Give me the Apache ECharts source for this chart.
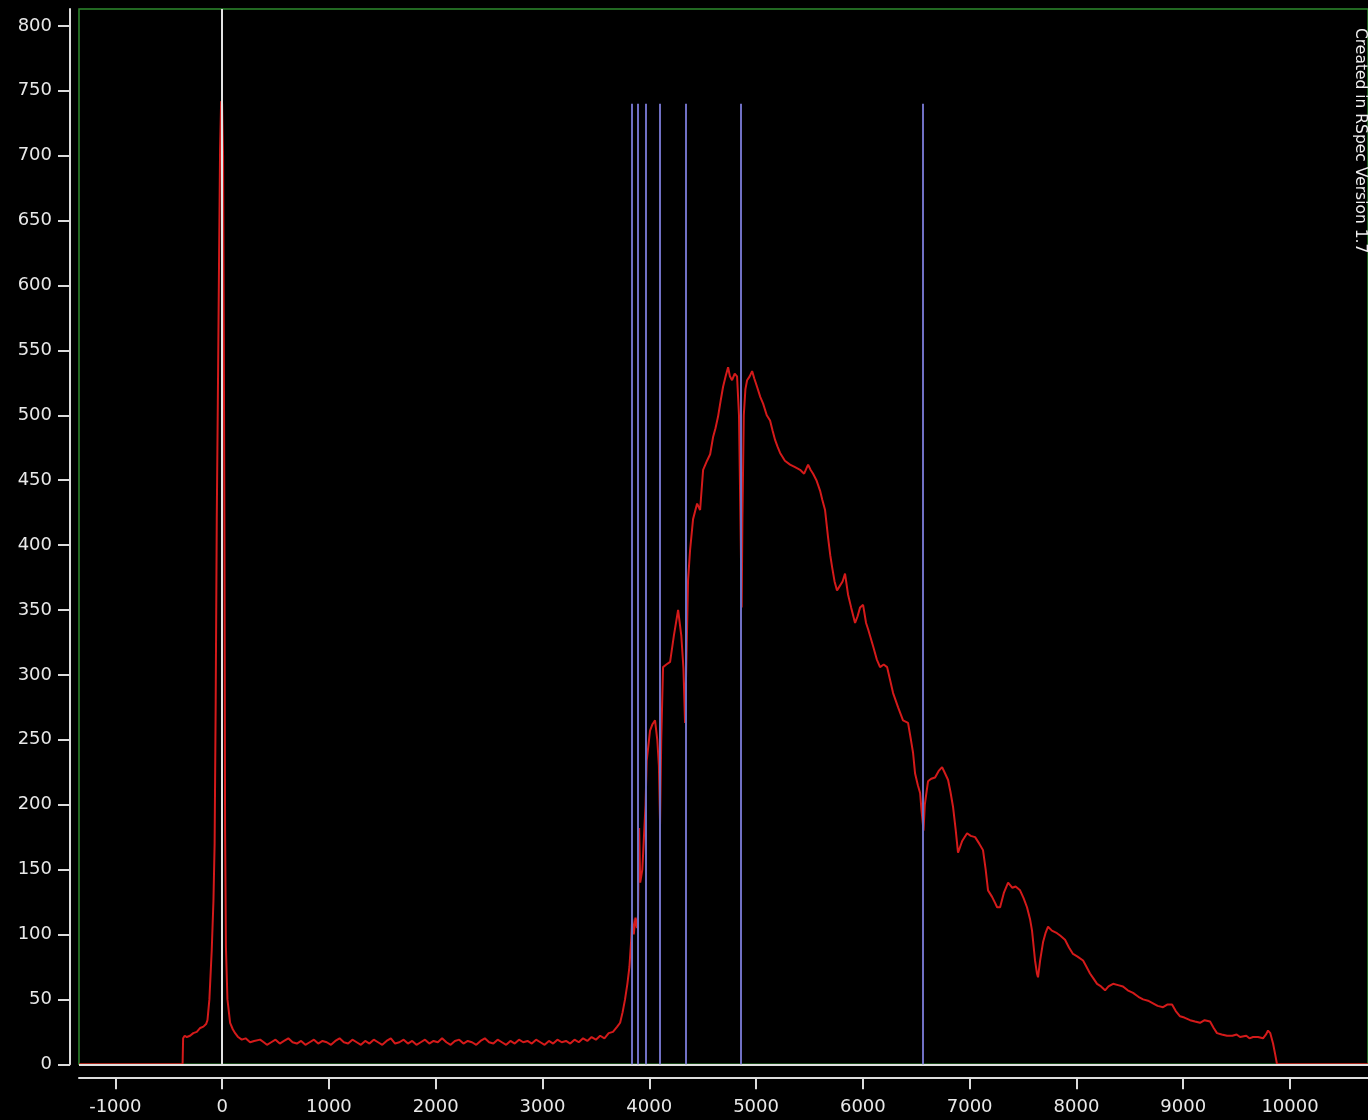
<!DOCTYPE html>
<html>
<head>
<meta charset="utf-8">
<script src="https://cdn.jsdelivr.net/npm/echarts@6/dist/echarts.min.js"></script>
<style>
html,body{margin:0;padding:0;background:#000;}
#chart{width:1368px;height:1120px;}
</style>
</head>
<body>
<div id="chart"></div>
<script>
// Spectrum: wavelength (Angstrom) and intensity
const wavelengths = [
-1340,-370,-365,-350,-330,-300,-270,-237,-205,-175,-150,-137,-119,-97,-81,-70,-60,-50,-40,-28,-19,-9,0,9,16,22,28,36,50,75,100,122,150,184,220,262,300,356,390,420,
460,500,540,580,620,660,700,740,780,820,860,900,940,980,1020,1060,1100,1140,1180,1220,1260,1300,1340,1380,1420,1460,1500,1540,1580,1620,1660,1700,1740,1780,1820,1860,1900,1940,1980,2020,2060,2100,2140,2180,2220,2260,2300,2340,2380,2420,2460,2500,2540,2580,2620,2660,2700,2740,2780,2820,2860,2900,2940,2980,3020,3060,3100,3140,3180,3220,3260,3300,3340,3380,3420,3460,3500,3540,3580,3620,3660,3700,3727,3750,3773,3795,3814,3830,3840,3855,3870,3885,3895,3905,3915,3935,3950,3965,3976,4007,4030,4054,4075,4090,4101,4112,4129,4160,4195,4230,4270,4300,4320,4335,4350,4363,4382,4410,4448,4476,4504,4541,4570,4597,4620,4644,4670,4691,4715,4738,4755,4775,4800,4822,4840,4852,4865,4872,4885,4900,4916,4940,4963,4985,5009,5040,5066,5100,5131,5155,5178,5200,5225,5270,5318,5365,5412,5450,5487,5510,5534,5565,5599,5620,5646,5674,5695,5712,5735,5758,5780,5810,5833,5861,5890,5927,5950,5974,6002,6030,6050,6096,6130,6161,6195,6227,6255,6283,6330,6376,6423,6450,6470,6489,6515,6536,6550,6568,6580,6610,6640,6676,6710,6742,6770,6798,6820,6845,6870,6891,6930,6976,7010,7051,7090,7125,7150,7172,7210,7240,7257,7285,7320,7360,7400,7430,7472,7505,7537,7565,7584,7600,7612,7630,7640,7660,7687,7710,7734,7770,7818,7850,7893,7930,7968,8010,8062,8095,8127,8160,8193,8230,8268,8300,8343,8390,8436,8480,8530,8580,8624,8670,8717,8760,8811,8850,8895,8930,8970,9010,9064,9110,9157,9200,9251,9285,9316,9360,9410,9460,9500,9532,9590,9620,9654,9700,9747,9775,9794,9815,9841,9860,9878,10730
];
const intensity = [
0,0,20,22,21,22,24,25,28,29,31,34,50,88,126,170,280,420,510,625,705,742,740,700,560,400,180,90,50,32,27,24,21,19,20,17,18,19,17,15,
17,19,16,18,20,17,16,18,15,17,19,16,18,17,15,18,20,17,16,19,17,15,18,16,19,17,15,18,20,16,17,19,16,18,15,17,19,16,18,17,20,17,15,18,19,16,18,17,15,18,20,17,16,19,17,15,18,16,19,17,18,16,19,17,15,18,16,19,17,18,16,19,17,20,18,21,19,22,20,24,25,29,32,40,50,62,75,95,112,100,113,105,115,182,140,150,175,200,234,257,262,265,250,230,185,250,306,308,310,330,350,330,305,263,320,373,396,420,432,427,458,465,470,483,490,499,512,522,530,537,530,527,532,530,500,430,352,420,500,520,527,530,534,528,522,514,509,500,496,488,481,476,471,465,462,460,458,455,462,458,455,450,442,435,427,406,392,383,372,365,368,372,378,362,352,340,345,352,354,340,335,322,312,306,308,306,296,286,275,265,263,250,240,224,215,209,195,180,200,218,220,221,226,229,224,219,210,198,180,163,172,178,176,175,170,165,150,134,129,124,121,121,132,140,136,137,134,128,121,112,103,90,80,70,67,80,94,101,106,103,101,99,96,90,85,83,80,75,70,66,62,60,57,60,62,61,60,57,55,52,50,49,47,45,44,46,46,41,37,36,34,33,32,34,33,28,24,23,22,22,23,21,22,20,21,21,20,23,26,24,16,8,0,0
];
// Balmer line markers (Angstrom)
const balmerLines = [3835, 3889, 3970, 4102, 4340, 4861, 6563];
const balmerTop = 740;
const xTickValues = [-1000,0,1000,2000,3000,4000,5000,6000,7000,8000,9000,10000];
const yTickValues = [0,50,100,150,200,250,300,350,400,450,500,550,600,650,700,750,800];
const xMin = -1340, xMax = 10730, yMin = 0, yMax = 813;
const creditText = 'Created in RSpec Version 1.7';

const spectrum = wavelengths.map((w, i) => [w, intensity[i]]);
const chart = echarts.init(document.getElementById('chart'), null, {renderer: 'canvas'});
const labelStyle = {color: '#e8e8e8', fontFamily: 'DejaVu Sans', fontSize: 18};
chart.setOption({
  backgroundColor: '#000',
  animation: false,
  grid: {left: 79, top: 9, right: 0, bottom: 55.7, show: true, borderColor: '#2e8a2e', borderWidth: 1.5, backgroundColor: 'transparent'},
  xAxis: {
    type: 'value', min: xMin, max: xMax, offset: 13,
    axisLine: {show: true, onZero: false, lineStyle: {color: '#dcdcdc', width: 2}},
    axisTick: {show: true, length: 12, lineStyle: {color: '#dcdcdc', width: 2}, customValues: xTickValues},
    axisLabel: Object.assign({margin: 21, customValues: xTickValues, formatter: v => String(v)}, labelStyle),
    splitLine: {show: false}
  },
  yAxis: {
    type: 'value', min: yMin, max: yMax, offset: 9,
    axisLine: {show: true, onZero: false, lineStyle: {color: '#dcdcdc', width: 2}},
    axisTick: {show: true, length: 12, lineStyle: {color: '#dcdcdc', width: 2}, customValues: yTickValues},
    axisLabel: Object.assign({margin: 18, customValues: yTickValues, formatter: v => String(v)}, labelStyle),
    splitLine: {show: false}
  },
  graphic: [{
    type: 'text', x: 1368, y: 28, rotation: -Math.PI / 2,
    style: {text: creditText, fill: '#f0f0f0', font: '15.5px "DejaVu Sans"', verticalAlign: 'top', align: 'left'}
  }],
  series: [
    {
      type: 'line', data: [], z: 1, silent: true,
      markLine: {
        silent: true, symbol: ['none', 'none'], label: {show: false},
        lineStyle: {color: '#e2e2e2', width: 2, type: 'solid'},
        data: [{xAxis: 0}, {yAxis: 0}]
      }
    },
    {
      type: 'line', data: [], z: 2, silent: true,
      markLine: {
        silent: true, symbol: ['none', 'none'], label: {show: false},
        lineStyle: {color: '#7070c4', width: 2, type: 'solid'},
        data: balmerLines.map(w => [{coord: [w, 0]}, {coord: [w, balmerTop]}])
      }
    },
    {
      type: 'line', data: spectrum, z: 3, showSymbol: false, symbol: 'none',
      lineStyle: {color: '#d41a1a', width: 2}
    }
  ]
});
</script>
</body>
</html>
